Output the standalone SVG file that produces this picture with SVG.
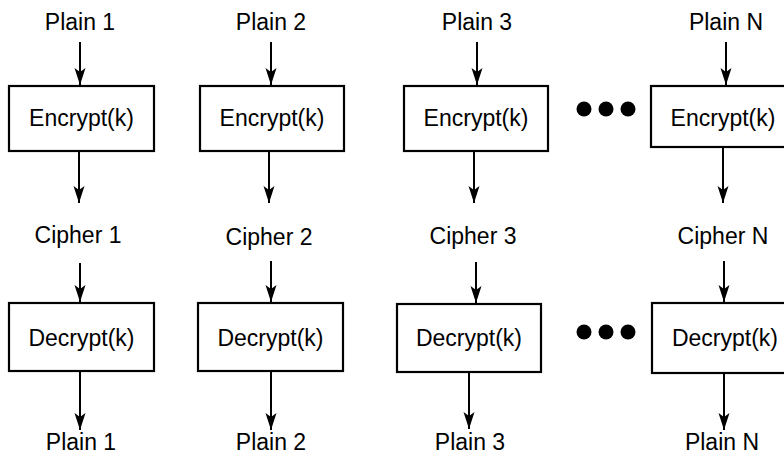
<svg xmlns="http://www.w3.org/2000/svg" width="784" height="456" viewBox="0 0 784 456">
<style>
text{font-family:"Liberation Sans",Arial,Helvetica,sans-serif;font-size:23px;fill:#000;text-anchor:middle}
.box{fill:#fff;stroke:#000;stroke-width:2.2}
.arr{stroke:#000;stroke-width:2;fill:none;marker-end:url(#ah)}
.dot{fill:#000}
</style>
<defs>
<marker id="ah" markerUnits="userSpaceOnUse" markerWidth="19" markerHeight="14" viewBox="-18 -7 19 14" refX="0" refY="0" orient="auto">
<path d="M0,0 L-17,-5.5 L-13,0 L-17,5.5 Z" fill="#000"/>
</marker>
</defs>
<rect width="784" height="456" fill="#fff"/>
<g id="connectors">
<line class="arr" x1="80" y1="42" x2="80" y2="85"/>
<line class="arr" x1="271" y1="42" x2="271" y2="85"/>
<line class="arr" x1="477" y1="42" x2="477" y2="85"/>
<line class="arr" x1="726" y1="42" x2="726" y2="85"/>
<line class="arr" x1="79" y1="151" x2="79" y2="203"/>
<line class="arr" x1="269" y1="151" x2="269" y2="203"/>
<line class="arr" x1="474" y1="151" x2="474" y2="203"/>
<line class="arr" x1="723" y1="147" x2="723" y2="203"/>
<line class="arr" x1="80" y1="263" x2="80" y2="302"/>
<line class="arr" x1="271" y1="261" x2="271" y2="302"/>
<line class="arr" x1="476" y1="262" x2="476" y2="303"/>
<line class="arr" x1="724" y1="261" x2="724" y2="302"/>
<line class="arr" x1="80" y1="371" x2="80" y2="430"/>
<line class="arr" x1="271" y1="371" x2="271" y2="430"/>
<line class="arr" x1="469" y1="372" x2="469" y2="429"/>
<line class="arr" x1="724" y1="373" x2="724" y2="430"/>
</g>
<g id="labels">
<text x="80" y="30">Plain 1</text>
<text x="271" y="30">Plain 2</text>
<text x="477" y="30">Plain 3</text>
<text x="726" y="30">Plain N</text>
<text x="78" y="243">Cipher 1</text>
<text x="269" y="245">Cipher 2</text>
<text x="473" y="244">Cipher 3</text>
<text x="723" y="244">Cipher N</text>
<text x="81" y="450">Plain 1</text>
<text x="271" y="450">Plain 2</text>
<text x="470" y="450">Plain 3</text>
<text x="722" y="450">Plain N</text>
</g>
<g id="enc1"><rect class="box" x="9" y="86" width="145" height="65"/><text x="81.5" y="126">Encrypt(k)</text></g>
<g id="enc2"><rect class="box" x="200" y="86" width="144" height="65"/><text x="272" y="126">Encrypt(k)</text></g>
<g id="enc3"><rect class="box" x="404" y="86" width="144" height="65"/><text x="476" y="126">Encrypt(k)</text></g>
<g id="enc4"><rect class="box" x="651" y="86" width="170" height="61"/><text x="723" y="126">Encrypt(k)</text></g>
<g id="dec1"><rect class="box" x="9" y="303" width="145" height="68"/><text x="81.5" y="346">Decrypt(k)</text></g>
<g id="dec2"><rect class="box" x="198" y="303" width="145" height="68"/><text x="270.5" y="346">Decrypt(k)</text></g>
<g id="dec3"><rect class="box" x="397" y="304" width="144" height="68"/><text x="469" y="346">Decrypt(k)</text></g>
<g id="dec4"><rect class="box" x="652" y="303" width="170" height="70"/><text x="725" y="346">Decrypt(k)</text></g>
<g id="ellipsis-top"><circle class="dot" cx="584" cy="109" r="7.5"/><circle class="dot" cx="606" cy="109" r="7.5"/><circle class="dot" cx="628" cy="109" r="7.5"/></g>
<g id="ellipsis-bottom"><circle class="dot" cx="584" cy="332" r="7.5"/><circle class="dot" cx="606" cy="332" r="7.5"/><circle class="dot" cx="628" cy="332" r="7.5"/></g>
</svg>
